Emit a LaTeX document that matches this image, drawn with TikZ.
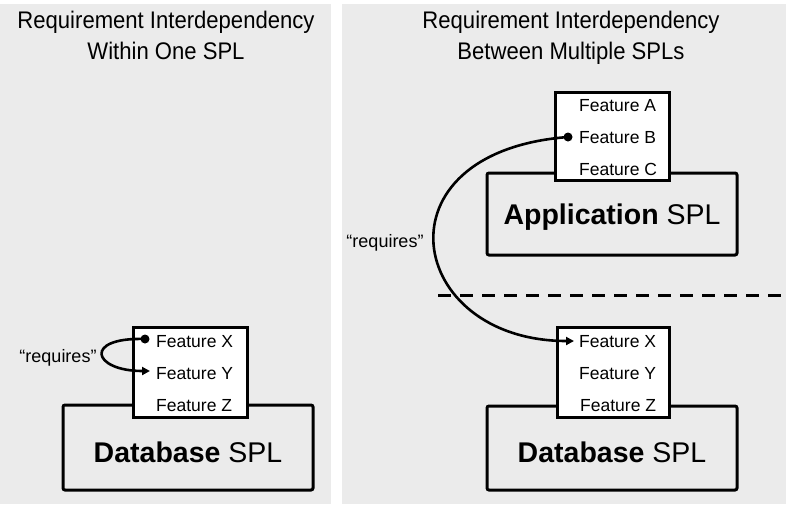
\documentclass[tikz,border=0pt]{standalone}
\usepackage{fontspec}
\setmainfont{Liberation Sans}
\newfontfamily\titlefont[FakeStretch=0.92]{Liberation Sans}
\usetikzlibrary{arrows.meta}

\definecolor{panelgray}{HTML}{EBEBEB}

\tikzset{
  panel/.style={fill=panelgray, draw=none},
  splbox/.style={draw=black, line width=3pt, rounded corners=2pt, fill=panelgray,
                 inner sep=0pt, minimum width=250pt},
  featbox/.style={draw=black, line width=3pt, fill=white, inner sep=0pt},
  feat/.style={anchor=west, inner sep=0pt, text height=12.5pt, text depth=0pt,
               font=\fontsize{17.5}{20}\selectfont},
  spltext/.style={font=\fontsize{28.5}{32}\selectfont, inner sep=0pt},
  title/.style={font=\titlefont\fontsize{24}{31}\selectfont, align=center,
                inner sep=0pt, anchor=north},
  reqlabel/.style={font=\fontsize{18}{21}\selectfont, inner sep=0pt},
  dep/.style={line width=2.6pt, -{Triangle[length=8pt,width=8pt]}},
  depdot/.style={circle, fill=black, inner sep=0pt, minimum size=9pt},
  divider/.style={line width=3pt, dash pattern=on 13pt off 9pt}
}

\begin{document}
\begin{tikzpicture}[x=1pt, y=-1pt]
  \useasboundingbox (0,0) rectangle (786,504);

  % background panels
  \fill[panel] (0,4) rectangle (331,504);
  \fill[panel] (342,4) rectangle (786,504);

  % panel titles
  \node[title] (t1) at (166,10.5) {Requirement Interdependency\\Within One SPL};
  \node[title] (t2) at (571,10.5) {Requirement Interdependency\\Between Multiple SPLs};

  % ---------- left panel: one product line ----------
  \node[splbox, minimum width=250pt, minimum height=85pt] (dbL) at (188,447.5) {};
  \node[spltext] (dbLt) at (188,452) {\textbf{Database} SPL};
  \node[featbox, minimum width=114pt, minimum height=90pt] (fbL) at (190,372) {};
  \node[feat] (lX) at (156,341) {Feature X};
  \node[feat] (lY) at (156,373) {Feature Y};
  \node[feat] (lZ) at (156,405) {Feature Z};
  \node[depdot] (dotL) at (145,339) {};
  \coordinate (tipL) at (150,371);
  \draw[dep] (dotL.center) .. controls +(-62,-2) and +(-58,0) .. (tipL);
  \node[reqlabel] (rqL) at (58,358) {“requires”};

  % ---------- right panel: two product lines ----------
  \node[splbox, minimum width=250pt, minimum height=82pt] (app) at (612,214) {};
  \node[spltext] (appt) at (612,217) {\textbf{Application} SPL};
  \node[featbox, minimum width=114pt, minimum height=88pt] (fbA) at (612,136) {};
  \node[feat] (rA) at (579,105) {Feature A};
  \node[feat] (rB) at (579,137) {Feature B};
  \node[feat] (rC) at (579,169) {Feature C};

  \coordinate (divL) at (438,295);
  \coordinate (divR) at (786,295);
  \draw[divider] (divL) -- (divR);

  \node[splbox, minimum width=250pt, minimum height=84pt] (dbR) at (612,448) {};
  \node[spltext] (dbRt) at (612,452) {\textbf{Database} SPL};
  \node[featbox, minimum width=112pt, minimum height=90pt] (fbD) at (613,372) {};
  \node[feat] (dX) at (579,341) {Feature X};
  \node[feat] (dY) at (579,373) {Feature Y};
  \node[feat] (dZ) at (580,405) {Feature Z};

  \node[depdot] (dotR) at (568,137) {};
  \coordinate (tipR) at (574,341);
  \draw[dep] (dotR.center) .. controls +(-196,15) and +(-168,0) .. (tipR);
  \node[reqlabel] (rqR) at (385,243) {“requires”};
\end{tikzpicture}
\end{document}
